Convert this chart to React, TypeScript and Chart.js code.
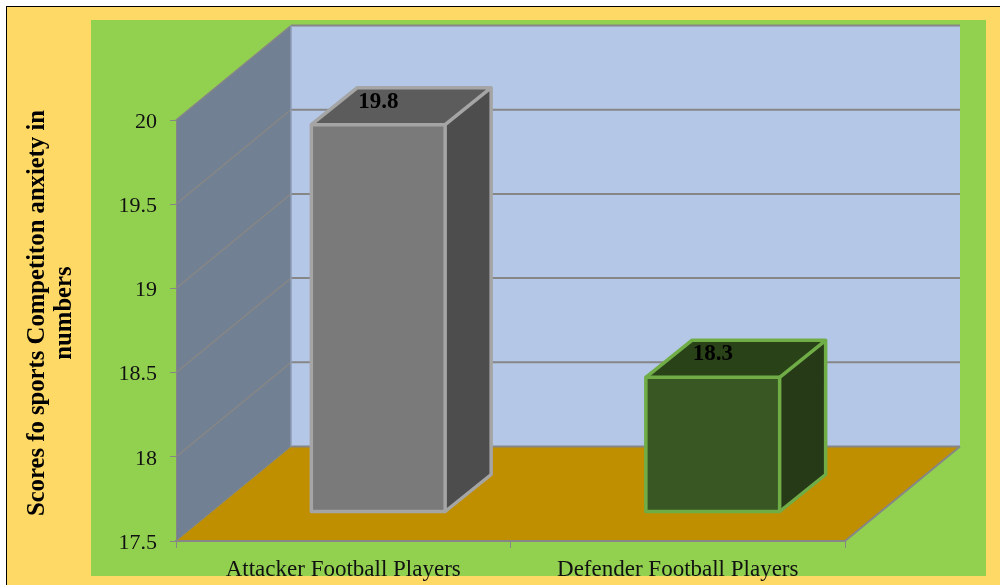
import React, { useEffect, useRef } from "react";
import { Chart, registerables } from "chart.js";

Chart.register(...registerables);

const categories = ["Attacker Football Players", "Defender Football Players"];
const scores = [19.8, 18.3];
const frontColors = ["#7A7A7A", "#385723"];
const topColors = ["#5C5C5C", "#2A4218"];
const sideColors = ["#4D4D4D", "#263A17"];
const edgeColors = ["#A5A5A5", "#70AD47"];
const yTitleLines = ["Scores fo sports Competiton anxiety in", "numbers"];
const Y_MIN = 17.5;
const Y_MAX = 20;

const SERIF = "'Liberation Serif', serif";
const GRID = "#868686";
// Oblique projection of the floor: how far the back wall sits from the front plane.
const WALL_DX = 115;
const WALL_DY = 94.5;
// Where the bar fronts stand on the floor, and how deep each box is.
const BAR_DX = 35;
const BAR_DY = 29;
const BOX_DX = 46;
const BOX_DY = 37;

function poly(ctx: CanvasRenderingContext2D, pts: number[][], fill?: string) {
  ctx.beginPath();
  pts.forEach(([x, y], i) => (i ? ctx.lineTo(x, y) : ctx.moveTo(x, y)));
  ctx.closePath();
  if (fill) {
    ctx.fillStyle = fill;
    ctx.fill();
  }
}

function segment(ctx: CanvasRenderingContext2D, x0: number, y0: number, x1: number, y1: number, width: number, color: string) {
  ctx.beginPath();
  ctx.moveTo(x0, y0);
  ctx.lineTo(x1, y1);
  ctx.lineWidth = width;
  ctx.strokeStyle = color;
  ctx.stroke();
}

const stagePlugin = {
  id: "stage",
  beforeDraw(chart: any) {
    const { ctx, width, height, chartArea: a } = chart;
    ctx.save();
    ctx.fillStyle = "#FFFFFF";
    ctx.fillRect(0, 0, width, height);
    ctx.fillStyle = "#000000";
    ctx.fillRect(6, 6, width - 6, height - 6);
    ctx.fillStyle = "#FFD966";
    ctx.fillRect(7, 7, width - 7, height - 7);
    ctx.fillStyle = "#92D050";
    ctx.fillRect(91, 20, 895, 556);

    const backL = a.left + WALL_DX;
    const backR = a.right + WALL_DX;
    const backT = a.top - WALL_DY;
    const backB = a.bottom - WALL_DY;

    ctx.fillStyle = "#B4C7E7";
    ctx.fillRect(backL, backT, backR - backL, backB - backT);
    poly(ctx, [[a.left, a.top], [backL, backT], [backL, backB], [a.left, a.bottom]], "#718093");
    poly(ctx, [[a.left, a.bottom], [a.right, a.bottom], [backR, backB], [backL, backB]], "#BF8F00");

    // Gridlines run along the side wall and then across the back wall.
    const yScale = chart.scales.y;
    yScale.ticks.forEach((t: any) => {
      const y = yScale.getPixelForValue(t.value);
      if (t.value > yScale.min) segment(ctx, a.left, y, backL, y - WALL_DY, 1.5, GRID);
      segment(ctx, backL, y - WALL_DY, backR, y - WALL_DY, 2, GRID);
    });
    segment(ctx, backL, backT, backL, backB, 1.5, "#8F9DB5");
    segment(ctx, a.left, a.bottom, backL, backB, 1, GRID);
    segment(ctx, a.right, a.bottom, backR, backB, 2, GRID);
    ctx.restore();
  },
  beforeDatasetDraw(chart: any, args: any) {
    const { ctx } = chart;
    ctx.save();
    ctx.translate(BAR_DX, -BAR_DY);
    args.meta.data.forEach((bar: any, i: number) => {
      const { x, y, base, width } = bar.getProps(["x", "y", "base", "width"], true);
      const l = x - width / 2;
      const r = x + width / 2;
      poly(ctx, [[l, y], [r, y], [r + BOX_DX, y - BOX_DY], [l + BOX_DX, y - BOX_DY]], topColors[i]);
      poly(ctx, [[r, y], [r + BOX_DX, y - BOX_DY], [r + BOX_DX, base - BOX_DY], [r, base]], sideColors[i]);
    });
  },
  afterDatasetDraw(chart: any, args: any) {
    const { ctx } = chart;
    args.meta.data.forEach((bar: any, i: number) => {
      const { x, y, base, width } = bar.getProps(["x", "y", "base", "width"], true);
      const l = x - width / 2;
      const r = x + width / 2;
      ctx.lineJoin = "round";
      ctx.lineWidth = 3.5;
      ctx.strokeStyle = edgeColors[i];
      ctx.strokeRect(l, y, width, base - y);
      ctx.beginPath();
      ctx.moveTo(l, y);
      ctx.lineTo(l + BOX_DX, y - BOX_DY);
      ctx.lineTo(r + BOX_DX, y - BOX_DY);
      ctx.lineTo(r, y);
      ctx.moveTo(r + BOX_DX, y - BOX_DY);
      ctx.lineTo(r + BOX_DX, base - BOX_DY);
      ctx.lineTo(r, base);
      ctx.stroke();

      ctx.fillStyle = "#000000";
      ctx.font = `bold 23px ${SERIF}`;
      ctx.textAlign = "center";
      ctx.textBaseline = "middle";
      ctx.fillText(String(scores[i]), x, y - 23);
    });
    ctx.restore();
  },
  afterDraw(chart: any) {
    // The two-line axis caption sits slightly above the axis midpoint.
    const { ctx } = chart;
    ctx.save();
    ctx.fillStyle = "#000000";
    ctx.font = `bold 24.7px ${SERIF}`;
    ctx.textAlign = "center";
    ctx.textBaseline = "alphabetic";
    yTitleLines.forEach((line, i) => {
      ctx.save();
      ctx.translate(44 + i * 27, 313);
      ctx.rotate(-Math.PI / 2);
      ctx.fillText(line, 0, 0);
      ctx.restore();
    });
    ctx.restore();
  },
};

export default function App() {
  const canvasRef = useRef<HTMLCanvasElement | null>(null);

  useEffect(() => {
    const chart = new Chart(canvasRef.current as HTMLCanvasElement, {
      type: "bar",
      data: {
        labels: categories,
        datasets: [
          {
            data: scores,
            base: Y_MIN,
            backgroundColor: frontColors,
            borderWidth: 0,
            categoryPercentage: 1,
            barPercentage: 0.4,
            clip: false,
          } as any,
        ],
      },
      options: {
        responsive: false,
        animation: false,
        layout: { padding: { top: 120, right: 155, left: 0, bottom: 0 } },
        plugins: { legend: { display: false }, tooltip: { enabled: false } },
        scales: {
          x: {
            afterFit: (s: any) => {
              s.height = 44;
            },
            grid: { drawOnChartArea: false, drawTicks: true, tickLength: 7, color: GRID },
            border: { color: GRID, width: 2 },
            ticks: {
              color: "#111111",
              padding: 8,
              maxRotation: 0,
              font: { family: SERIF, size: 23 },
            },
          },
          y: {
            min: Y_MIN,
            max: Y_MAX,
            afterFit: (s: any) => {
              s.width = 176;
            },
            grid: { drawOnChartArea: false, drawTicks: true, tickLength: 6, color: GRID },
            border: { color: GRID, width: 1 },
            ticks: {
              stepSize: 0.5,
              color: "#111111",
              padding: 13,
              labelOffset: 2,
              font: { family: SERIF, size: 22 },
              callback: (v: any) => String(v),
            },
          },
        },
      },
      plugins: [stagePlugin],
    } as any);
    return () => chart.destroy();
  }, []);

  return (
    <div style={{ position: "absolute", left: 0, top: 0, width: 1000, height: 585 }}>
      <canvas ref={canvasRef} width={1000} height={585} style={{ display: "block" }} />
    </div>
  );
}
